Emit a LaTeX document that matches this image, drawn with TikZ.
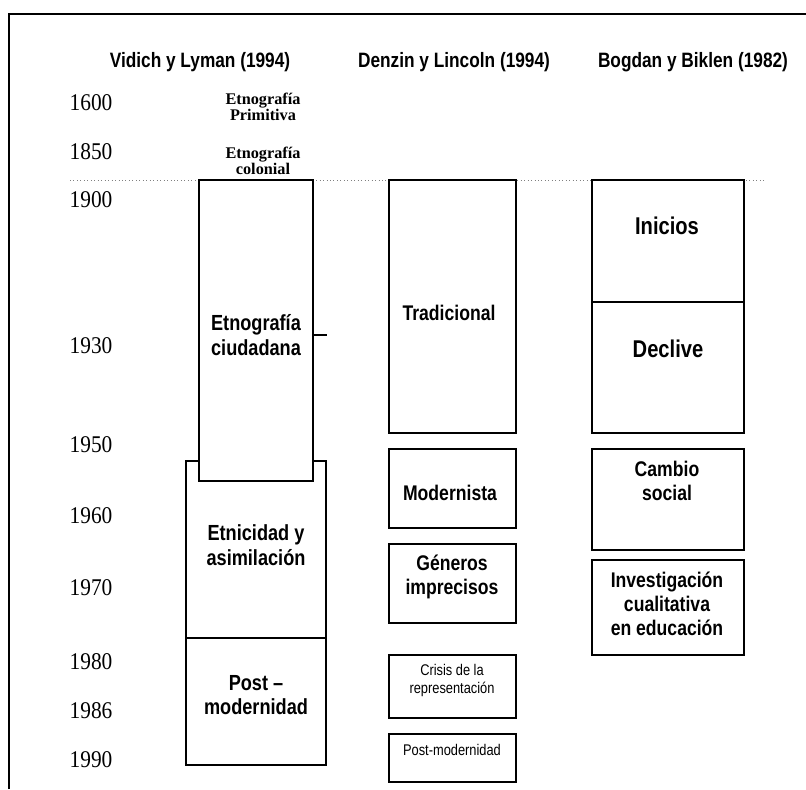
\documentclass[tikz,border=0pt]{standalone}
\usepackage{fontspec}
\setmainfont{Liberation Serif}
\setsansfont{Liberation Sans}
\newfontfamily\sansest[FakeStretch=0.83]{Liberation Sans}
\newfontfamily\serifest[FakeStretch=0.89]{Liberation Serif}
\usetikzlibrary{calc}

\tikzset{
  caja/.style 2 args={draw, line width=1pt, fill=white, inner sep=0pt,
    minimum width=#1*0.75pt, minimum height=#2*0.75pt},
  etiq/.style={font=\sansest\bfseries\fontsize{15.9}{17.8}\selectfont, align=center, inner sep=0pt},
  etiqa/.style={font=\sansest\bfseries\fontsize{16.4}{18.3}\selectfont, align=center, inner sep=0pt},
  etiqg/.style={font=\sansest\bfseries\fontsize{18.2}{20}\selectfont, align=center, inner sep=0pt},
  etiqp/.style={font=\sansest\fontsize{11.6}{13.5}\selectfont, align=center, inner sep=0pt},
  autor/.style={font=\sansest\bfseries\fontsize{15.6}{17}\selectfont, inner sep=0pt},
  anio/.style={font=\serifest\fontsize{18}{20}\selectfont, inner sep=0pt},
  antigua/.style={font=\bfseries\fontsize{12.2}{12.2}\selectfont, align=center, inner sep=0pt},
}

\begin{document}
\begin{tikzpicture}[x=0.75pt, y=-0.75pt]
  \useasboundingbox (0,0) rectangle (806,789);

  % marco
  \coordinate (fa) at (9,789);
  \coordinate (fc) at (806,14);
  \draw[line width=1.5pt] (fa) |- (fc);

  % autores
  \node[autor] (vidich) at (200,62) {Vidich y Lyman (1994)};
  \node[autor] (denzin) at (454,62) {Denzin y Lincoln (1994)};
  \node[autor] (bogdan) at (693,62) {Bogdan y Biklen (1982)};

  % anios
  \node[anio] (a1600) at (91,103) {1600};
  \node[anio] (a1850) at (91,152) {1850};
  \node[anio] (a1900) at (91,200) {1900};
  \node[anio] (a1930) at (91,346) {1930};
  \node[anio] (a1950) at (91,445) {1950};
  \node[anio] (a1960) at (91,516) {1960};
  \node[anio] (a1970) at (91,588) {1970};
  \node[anio] (a1980) at (91,662) {1980};
  \node[anio] (a1986) at (91,711) {1986};
  \node[anio] (a1990) at (91,760) {1990};

  \node[antigua] (primitiva) at (263,107) {Etnograf\'ia\\Primitiva};
  \node[antigua] (colonial) at (263,161) {Etnograf\'ia\\colonial};

  \coordinate (pl) at (70,180);
  \coordinate (pr) at (765,180);
  \draw[dotted, gray, line width=0.6pt] (pl) -- (pr);

  % Vidich y Lyman
  \node[caja={140}{177}] (etni) at (256,549.5) {};
  \node[caja={114}{301}] (ciud) at (256,330.5) {};
  \node[caja={140}{127}] (post) at (256,701.5) {};
  \draw[line width=1pt] ($(ciud.east)+(0,4.5)$) -- ++(13,0);
  \node[etiqa] (tciud) at (256,335) {Etnograf\'ia\\ciudadana};
  \node[etiqa] (tetni) at (256,545) {Etnicidad y\\asimilaci\'on};
  \node[etiqa] (tpost) at (256,695) {Post \textendash\\modernidad};

  % Denzin y Lincoln
  \node[caja={127}{253}] (trad) at (452.5,306.5) {};
  \node[caja={127}{79}] (mode) at (452.5,488.5) {};
  \node[caja={127}{79}] (gene) at (452.5,583.5) {};
  \node[caja={127}{63}] (cris) at (452.5,686.5) {};
  \node[caja={127}{48}] (pmod) at (452.5,758) {};
  \node[etiq] (ttrad) at (449,313) {Tradicional};
  \node[etiq] (tmode) at (450,493) {Modernista};
  \node[etiq] (tgene) at (452,577) {G\'eneros\\imprecisos};
  \node[etiqp] (tcris) at (452,680) {Crisis de la\\representaci\'on};
  \node[etiqp] (tpmod) at (452,750) {Post-modernidad};

  % Bogdan y Biklen
  \node[caja={152}{122}] (inic) at (668,241) {};
  \node[caja={152}{131}] (decl) at (668,367.5) {};
  \node[caja={152}{101}] (camb) at (668,499.5) {};
  \node[caja={152}{95}] (inve) at (668,607.5) {};
  \node[etiqg] (tinic) at (667,226) {Inicios};
  \node[etiqg] (tdecl) at (668,349) {Declive};
  \node[etiq] (tcamb) at (667,481) {Cambio\\social};
  \node[etiq] (tinve) at (667,604) {Investigaci\'on\\cualitativa\\en educaci\'on};
\end{tikzpicture}
\end{document}
